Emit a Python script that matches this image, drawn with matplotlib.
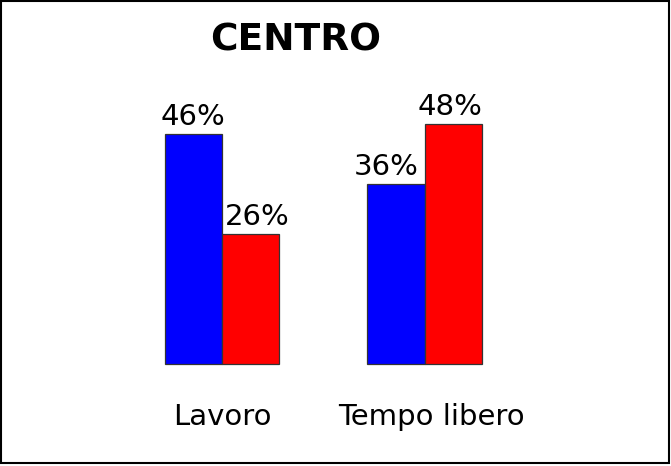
import numpy as np
import matplotlib.pyplot as plt
from matplotlib.patches import Rectangle

categories = ['Lavoro', 'Tempo libero']
blue_vals = [46, 36]
red_vals = [26, 48]
title = 'CENTRO'

W, H, DPI = 671, 466, 100
fig = plt.figure(figsize=(W / DPI, H / DPI), dpi=DPI)
ax = fig.add_axes([0, 0, 1, 1])

# pixel mapping: group centres at 222 and 425 px, baseline at 102 px from bottom
px_per_unit = 203.0
px_per_pct = 5.0
ax.set_xlim(-222 / px_per_unit, (W - 222) / px_per_unit)
ax.set_ylim(-102 / px_per_pct, (H - 102) / px_per_pct)
ax.axis('off')

x = np.arange(len(categories))
w = 57.5 / px_per_unit
ax.bar(x - w / 2, blue_vals, w, color='#0000ff', edgecolor='#333333', linewidth=0.9)
ax.bar(x + w / 2, red_vals, w, color='#ff0000', edgecolor='#333333', linewidth=0.9)

# value labels, nudged a bit like in the original
blue_dx = [0.0, -0.05]
red_dx = [0.03, -0.02]
for xi, v, dx in zip(x - w / 2, blue_vals, blue_dx):
    ax.text(xi + dx, v + 0.6, f'{v}%', ha='center', va='bottom', fontsize=21)
for xi, v, dx in zip(x + w / 2, red_vals, red_dx):
    ax.text(xi + dx, v + 0.6, f'{v}%', ha='center', va='bottom', fontsize=21)

for xi, c in zip(x, categories):
    ax.text(xi + (0.03 if xi > 0 else 0), -10.6, c, ha='center', va='center', fontsize=21)

fig.text(0.44, 0.914, title, ha='center', va='center', fontsize=27, fontweight='bold')

# frame round the picture
fig.patches.append(Rectangle((0.001, 0.006), 0.996, 0.992, transform=fig.transFigure,
                             fill=False, edgecolor='black', linewidth=1.5))

fig.savefig('out.png', dpi=DPI)
